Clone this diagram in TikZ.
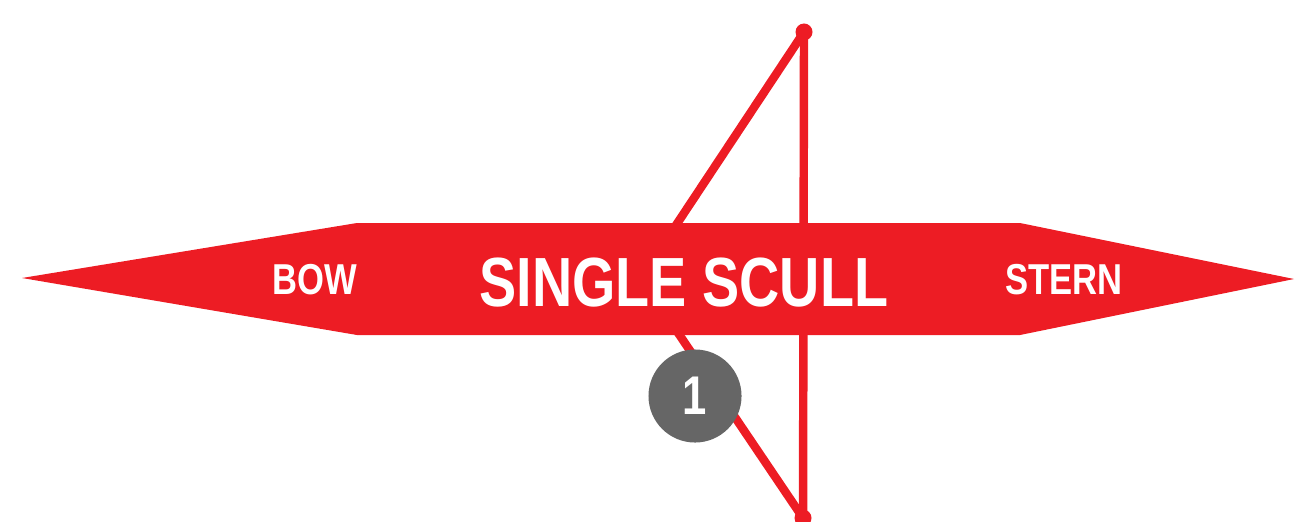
\documentclass[tikz,border=0pt]{standalone}
\usepackage{fontspec}
\setmainfont{Liberation Sans}[FakeStretch=0.8]
\usetikzlibrary{positioning}
\definecolor{hullc}{HTML}{ED1C24}
\definecolor{badgec}{HTML}{666666}

\begin{document}
\begin{tikzpicture}[x=0.01cm, y=-0.01cm, font=\bfseries,
    oar/.style={draw=hullc, line width=2.4pt},
    oarend/.style={circle, fill=hullc, inner sep=0pt, minimum size=0.17cm},
    hulltext/.style={text=white, anchor=base, inner sep=0pt},
    badge/.style={circle, fill=badgec, text=white, inner sep=0pt, minimum size=0.93cm}]
    \useasboundingbox (0,0) rectangle (1295,521);
    % oars: the rigger is hidden under the hull
    \node[oarend] (oartop) at (804,32) {};
    \node[oarend] (oarbot) at (803,518) {};
    \coordinate (rigger) at (641,278);
    \draw[oar] (oartop.center) -- (rigger) -- (oarbot.center);
    \draw[oar] (oartop.center) -- (oarbot.center);
    % hull
    \fill[hullc] (22,278) -- (357,223) -- (1020,223) -- (1294,279)
      -- (1020,335) -- (357,335) -- cycle;
    \node[hulltext] (bow) at (315,294) {\fontsize{12.3}{14}\selectfont BOW};
    \node[hulltext] (boat) at (684,306) {\fontsize{19.8}{22}\selectfont SINGLE SCULL};
    \node[hulltext] (stern) at (1064,294) {\fontsize{12.3}{14}\selectfont STERN};
    % seat number
    \node[badge] (seat) at (695,396) {\fontsize{15.5}{17}\selectfont 1};
\end{tikzpicture}
\end{document}
